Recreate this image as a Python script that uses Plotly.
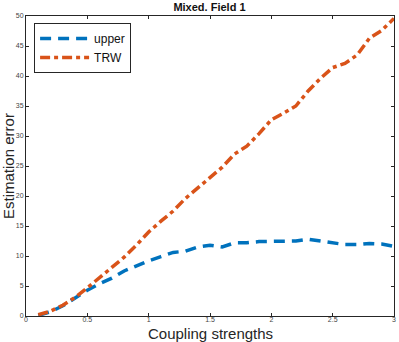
import plotly.graph_objects as go

# coupling strengths on the x axis
coupling = [0.1, 0.2, 0.3, 0.4, 0.5, 0.6, 0.7, 0.8, 0.9, 1.0,
            1.1, 1.2, 1.3, 1.4, 1.5, 1.6, 1.7, 1.8, 1.9, 2.0,
            2.1, 2.2, 2.3, 2.4, 2.5, 2.6, 2.7, 2.8, 2.9, 3.0]

upper_err = [0.1, 0.7, 1.7, 3.0, 4.3, 5.4, 6.3, 7.5, 8.4, 9.2,
             9.9, 10.6, 10.8, 11.5, 11.8, 11.5, 12.2, 12.2, 12.4, 12.4,
             12.4, 12.5, 12.8, 12.5, 12.2, 11.9, 11.9, 12.1, 12.0, 11.6]

trw_err = [0.2, 0.8, 1.8, 3.1, 4.7, 6.4, 8.2, 9.8, 11.8, 14.0,
           15.8, 17.5, 19.6, 21.3, 23.0, 24.8, 27.0, 28.3, 30.4, 32.7,
           33.8, 35.0, 37.5, 39.6, 41.4, 42.1, 43.5, 46.3, 47.6, 49.6]

x_ticks = [0, 0.5, 1, 1.5, 2, 2.5, 3]
x_labels = ["0", "0.5", "1", "1.5", "2", "2.5", "3"]
y_ticks = [0, 5, 10, 15, 20, 25, 30, 35, 40, 45, 50]

fig = go.Figure()
fig.add_trace(go.Scatter(x=coupling, y=upper_err, mode="lines", name="upper",
                         line=dict(color="#0072BD", width=3.5, dash="11px,7px")))
fig.add_trace(go.Scatter(x=coupling, y=trw_err, mode="lines", name="TRW",
                         line=dict(color="#D95319", width=3.5, dash="10px,4px,4px,4px")))

axis_style = dict(showline=True, linecolor="#262626", linewidth=1, mirror="ticks",
                  ticks="inside", ticklen=3, tickcolor="#262626", showgrid=False,
                  zeroline=False, tickfont=dict(size=7, color="#444444"))

fig.update_xaxes(range=[0, 3], tickvals=x_ticks, ticktext=x_labels,
                 ticklabelstandoff=-3, **axis_style)
fig.update_yaxes(range=[0, 50], tickvals=y_ticks, **axis_style)

fig.update_layout(
    width=399, height=342,
    margin=dict(l=26, r=3, t=16, b=26),
    paper_bgcolor="white", plot_bgcolor="white",
    font=dict(family="Liberation Sans, Arial, sans-serif", color="#262626"),
    title=dict(text="<b>Mixed. Field 1</b>", font=dict(size=11, color="#111111"),
               x=0.525, xanchor="center", y=0.979, yanchor="middle"),
    legend=dict(x=0.022, y=0.977, xanchor="left", yanchor="top",
                bgcolor="white", bordercolor="#262626", borderwidth=1,
                font=dict(size=12, color="#111111"), itemwidth=49,
                tracegroupgap=0),
    showlegend=True,
    annotations=[
        dict(text="Coupling strengths", xref="paper", yref="paper", x=0.5, y=-0.024,
             xanchor="center", yanchor="top", showarrow=False,
             font=dict(size=15, color="#262626")),
        dict(text="Estimation error", xref="paper", yref="paper", x=-0.049, y=0.5,
             xanchor="center", yanchor="middle", textangle=-90, showarrow=False,
             font=dict(size=15, color="#262626")),
    ],
)

# drop the browser's default body margin so the figure sits at the window corner
fig.write_html("out.html", config={"displayModeBar": False},
               post_script="document.body.style.margin='0px';")
